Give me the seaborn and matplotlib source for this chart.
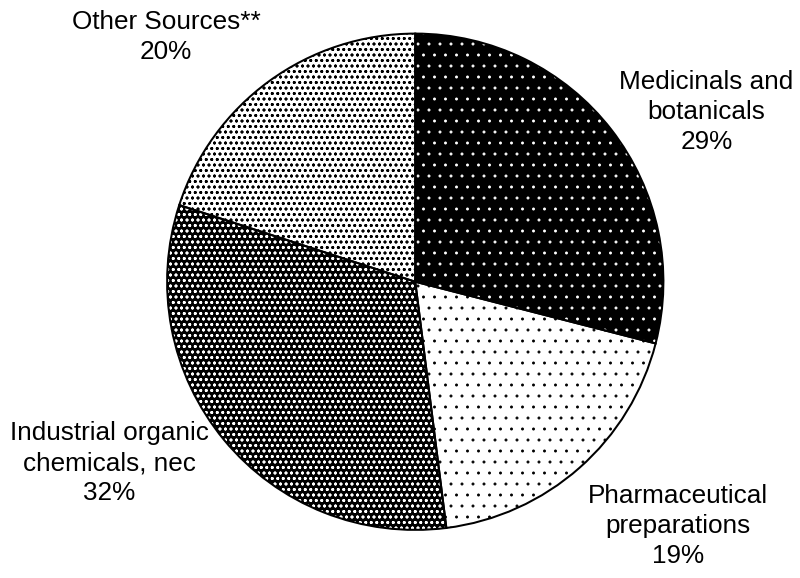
import matplotlib
matplotlib.use("Agg")
import matplotlib.pyplot as plt
import seaborn as sns

# ---- data ----
categories = ["Medicinals and\nbotanicals", "Pharmaceutical\npreparations",
              "Industrial organic\nchemicals, nec", "Other Sources**"]
shares = [29, 19, 32, 20]

# ---- styles ----
face_colors = ["black", "white", "black", "white"]
dot_colors = ["white", "black", "white", "black"]
hatches = [".", ".", "..oo", "..oo"]
label_pos = [(706, 112), (678, 526), (109, 463), (166, 37)]  # pixel centres (from top)

sns.set_theme(style="white")
plt.rcParams["font.family"] = ["Liberation Sans", "DejaVu Sans"]
plt.rcParams["hatch.linewidth"] = 0.8

DPI = 66
W, H = 800, 578
fig = plt.figure(figsize=((W + 0.5) / DPI, (H + 0.5) / DPI), dpi=DPI)
ax = fig.add_axes([0, 0, 1, 1])

center = (415, H - 282)
radius = 248

wedges, _ = ax.pie(shares, startangle=90, counterclock=False, center=center,
                   radius=radius, colors=face_colors,
                   wedgeprops=dict(linewidth=0))
for w, dc, h in zip(wedges, dot_colors, hatches):
    w.set_edgecolor(dc)
    w.set_linewidth(0)
    w.set_hatch(h)

ax.pie(shares, startangle=90, counterclock=False, center=center, radius=radius,
       wedgeprops=dict(fill=False, edgecolor="black", linewidth=2.2))

for name, v, (x, y) in zip(categories, shares, label_pos):
    ax.text(x, H - y, f"{name}\n{v}%", ha="center", va="center",
            fontsize=28.5, color="black", linespacing=1.32)

ax.set_xlim(0, W)
ax.set_ylim(0, H)
ax.set_aspect("equal")
ax.axis("off")

fig.savefig("out.png", dpi=DPI, facecolor="white")
